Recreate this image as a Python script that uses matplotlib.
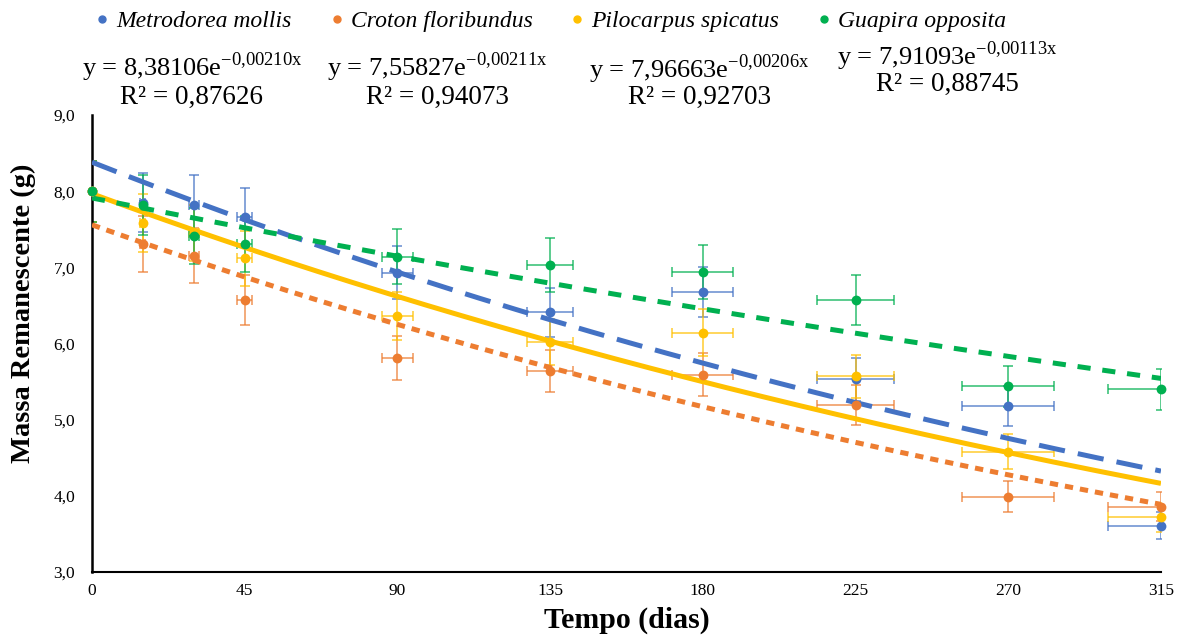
import numpy as np
import matplotlib
matplotlib.use("Agg")
import matplotlib.pyplot as plt
from matplotlib.lines import Line2D
from matplotlib.ticker import FuncFormatter

plt.rcParams['font.family'] = ['Liberation Serif', 'DejaVu Serif']
plt.rcParams['mathtext.fontset'] = 'custom'
plt.rcParams['mathtext.rm'] = 'Liberation Serif'
plt.rcParams['lines.scale_dashes'] = False

# Sampling days
dias = [0, 15, 30, 45, 90, 135, 180, 225, 270, 315]
dias_err = [0, 0.75, 1.5, 2.25, 4.5, 6.75, 9, 11.25, 13.5, 15.75]

especies = ["Metrodorea mollis", "Croton floribundus", "Pilocarpus spicatus", "Guapira opposita"]
cores = ["#4472C4", "#ED7D31", "#FFC000", "#00B050"]

# Remaining mass (g)
metrodorea = [8.00, 7.85, 7.82, 7.66, 6.93, 6.41, 6.68, 5.53, 5.18, 3.61]
croton = [8.00, 7.31, 7.15, 6.57, 5.81, 5.64, 5.59, 5.19, 3.99, 3.86]
pilocarpus = [8.00, 7.58, 7.45, 7.12, 6.36, 6.02, 6.14, 5.57, 4.58, 3.72]
guapira = [8.00, 7.82, 7.41, 7.31, 7.14, 7.03, 6.94, 6.57, 5.44, 5.40]

metrodorea_err = [0.40, 0.39, 0.39, 0.38, 0.35, 0.32, 0.33, 0.28, 0.26, 0.18]
croton_err = [0.40, 0.37, 0.36, 0.33, 0.29, 0.28, 0.28, 0.26, 0.20, 0.19]
pilocarpus_err = [0.40, 0.38, 0.37, 0.36, 0.32, 0.30, 0.31, 0.28, 0.23, 0.19]
guapira_err = [0.40, 0.39, 0.37, 0.37, 0.36, 0.35, 0.35, 0.33, 0.27, 0.27]

# Exponential trendline coefficients (y = a*e^(b*x)) and R²
coef_a = [8.38106, 7.55827, 7.96663, 7.91093]
coef_b = [-0.00210, -0.00211, -0.00206, -0.00113]
r2 = ["0,87626", "0,94073", "0,92703", "0,88745"]
eq_a = ["8,38106", "7,55827", "7,96663", "7,91093"]
eq_b = ["0{,}00210", "0{,}00211", "0{,}00206", "0{,}00113"]

series = [metrodorea, croton, pilocarpus, guapira]
erros = [metrodorea_err, croton_err, pilocarpus_err, guapira_err]
tracos = [(0, (19, 9.5)), (0, (6, 5)), '-', (0, (9.5, 8.5))]

fig = plt.figure(figsize=(11.82, 6.35), dpi=100)
ax = fig.add_axes([0.0778, 0.0992, 0.9044, 0.7197])

xs = np.linspace(0, 315, 200)
for i in range(4):
    ax.errorbar(dias, series[i], yerr=erros[i], xerr=dias_err, fmt='none',
                ecolor=cores[i], elinewidth=1.2, capsize=3.5, capthick=1.2,
                alpha=0.75, zorder=2)
    ax.scatter(dias, series[i], s=50, color=cores[i], zorder=4, clip_on=False,
               linewidths=0)
for i in range(4):
    ys = coef_a[i] * np.exp(coef_b[i] * xs)
    ax.plot(xs, ys, color=cores[i], lw=3.6, linestyle=tracos[i],
            solid_capstyle='butt', dash_capstyle='butt', zorder=3)

ax.set_xlim(0, 315)
ax.set_ylim(3, 9)
ax.set_xticks([0, 45, 90, 135, 180, 225, 270, 315])
ax.set_yticks([3, 4, 5, 6, 7, 8, 9])
ax.yaxis.set_major_formatter(FuncFormatter(lambda v, p: f"{v:.1f}".replace('.', ',')))
ax.tick_params(axis='both', length=0, labelsize=12.5)
ax.tick_params(axis='y', pad=12)
ax.tick_params(axis='x', pad=8)
for s in ['top', 'right']:
    ax.spines[s].set_visible(False)
ax.spines['left'].set_linewidth(1.8)
ax.spines['bottom'].set_linewidth(1.5)

ax.set_xlabel("Tempo (dias)", fontsize=21.5, fontweight='bold')
ax.xaxis.set_label_coords(0.5, -0.075)
ax.set_ylabel("Massa Remanescente (g)", fontsize=20.5, fontweight='bold')
ax.yaxis.set_label_coords(-0.052, 0.565)

# trendline equations
eq_x = [192, 437, 699, 947]
eq_y1 = [67, 67, 69, 56]
eq_y2 = [97, 97, 97, 84]
for i in range(4):
    fig.text(eq_x[i] / 1182, 1 - eq_y1[i] / 635,
             "y = " + eq_a[i] + "e$^{\\mathregular{-" + eq_b[i] + "x}}$",
             fontsize=19, ha='center', va='center')
    fig.text(eq_x[i] / 1182, 1 - eq_y2[i] / 635, "R² = " + r2[i],
             fontsize=19.5, ha='center', va='center')

handles = [Line2D([], [], marker='o', color=c, linestyle='none', markersize=5)
           for c in cores]
fig.legend(handles, especies, loc='center', bbox_to_anchor=(0.466, 1 - 21 / 635),
           ncol=4, frameon=False, prop={'style': 'italic', 'size': 17},
           handlelength=0.6, handletextpad=0.3, columnspacing=1.6)

fig.savefig("out.png", dpi=100)
